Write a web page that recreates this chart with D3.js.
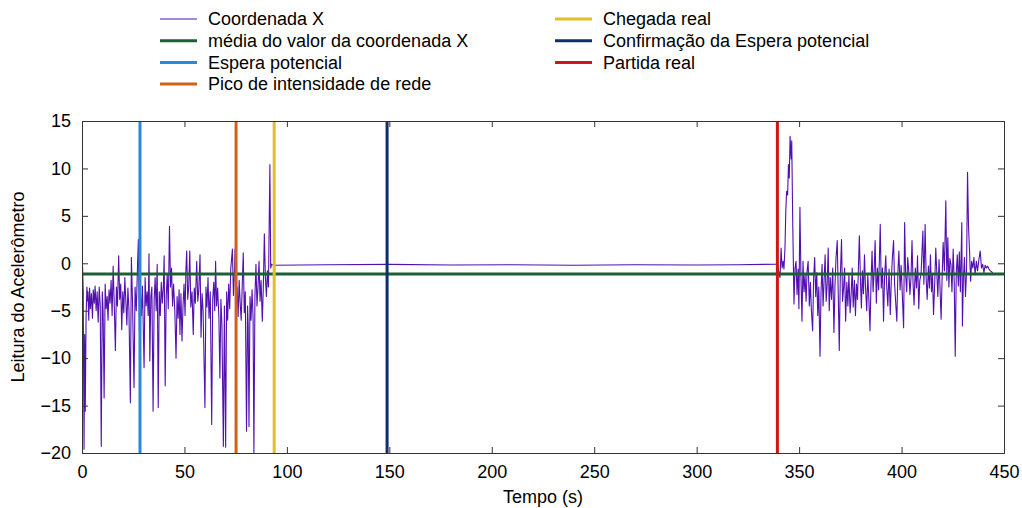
<!DOCTYPE html>
<html><head><meta charset="utf-8">
<script src="https://cdn.jsdelivr.net/npm/d3@7"></script>
<style>body{margin:0;background:#fff}svg{display:block}text{font-family:"Liberation Sans",Arial,sans-serif}</style>
</head><body><svg id="c" width="1022" height="508"></svg>
<script>
// ---- data ----
const xTicks = [0,50,100,150,200,250,300,350,400,450];
const yTicks = [-20,-15,-10,-5,0,5,10,15];
const meanValue = -1.12;
const eventNames = ["Espera potencial","Pico de intensidade de rede","Chegada real","Confirmação da Espera potencial","Partida real"];
const eventTimes = [28.3, 75.2, 93.8, 148.9, 339.4];
const eventColors = ["#2a88d8","#d2601a","#e0c028","#0f2e6e","#cc1515"];
const seriesColor = "#5210b0";
const meanColor = "#1d5e37";

const preSegment = [
[0.0,0.5],[0.3,-0.5],[0.6,-3],[0.8,-12],[1.0,-19.6],[1.3,-7.5],[1.6,-15.6],[2.0,-5.5],[2.4,-2.5],[2.8,-4],
[2.9,-3],[3.3,-6],[3.7,-2.6],[4.1,-4.8],[4.6,-3.2],[5.1,-5.8],[5.5,-2.8],[6.0,-4.2],[6.4,-2.4],[6.9,-5],
[7.4,-3],[7.9,-6.2],[8.4,-2.5],[8.9,-4.5],[9.4,-19.3],[9.9,-3],[10.3,-5],[10.8,-14.2],[11.3,-2.2],[11.8,-4.8],
[12.3,-3.5],[12.7,-6],[13.2,-2.8],[13.7,-4.2],[14.2,-1.8],[14.7,-5.5],[15.2,-0.3],[15.7,-4],[16.3,-9.2],[16.8,-2.5],
[17.3,-4.5],[17.9,0.8],[18.4,-3.8],[18.9,-2.2],[19.4,-7],[19.9,-3],[20.4,-5.2],[20.9,-1.5],[21.4,-4],[21.9,-6.5],
[22.4,-2.6],[22.9,-4.8],[23.6,-14.7],[24.1,0.6],[24.6,-3.5],[25.4,-13.1],[25.9,-2.5],[26.5,-5],[27.0,-1],[27.5,2.5],
[28.0,-7.1],[28.5,-3],[29.0,-5.5],[29.5,-2.4],[30.3,-11],[30.8,-1.5],[31.3,-4.5],[31.8,-3],[32.3,-5.5],[32.7,1],
[33.1,-10.3],[33.6,-3.5],[34.1,-2.5],[34.7,-15.6],[35.2,-4],[35.7,-1.5],[36.2,-5],[36.7,-0.1],[37.2,-15.2],[37.7,-3],
[38.2,-5.5],[38.7,-2],[39.2,-4.2],[39.7,-2.5],[40.1,0.8],[40.6,-12.9],[41.1,-3.5],[41.6,-1.2],[42.1,-4.8],[42.7,3.9],
[43.2,-2.5],[43.7,-0.5],[44.2,-4.5],[44.7,-2.2],[45.3,-5],[45.9,-10],[46.4,-3.5],[46.9,-5.8],[47.4,-2.8],[47.8,-7.5],
[48.3,-3.2],[48.8,-8.2],[49.3,-4.5],[49.8,-2.2],[50.3,-5.5],[50.7,-0.8],[51.1,1.3],[51.6,-3.8],[52.1,-2.4],[52.6,1.3],
[53.1,-4.6],[53.7,-3],[54.3,-7.5],[54.8,-2.6],[55.3,-4.2],[56.0,0.2],[56.5,-4],[57.0,-2.8],[57.6,0.9],[58.1,-7.8],
[58.6,-3.2],[59.1,-5],[60.0,-15.2],[60.5,-2.5],[61.0,-4.6],[61.5,-1.5],[62.0,-5.8],[62.6,-3],[63.3,-17],[63.8,-3.8],
[64.3,-2],[64.8,-5],[65.2,0.2],[65.7,-4.5],[66.2,-2.6],[66.8,-5.6],[67.3,-12.1],[67.8,-3.8],[68.3,-6.5],[69.0,-19.3],
[69.5,-4.5],[70.1,-19.4],[70.6,-3],[71.1,-6],[71.6,-2.2],[72.1,-4.8],[72.6,-0.6],[73.4,1.5],[73.9,-3.4],[74.4,-1],
[74.7,1.5],[75.2,-4],[75.7,-2.5],[76.2,-5.6],[76.7,-1.8],[77.2,-4.2],[77.7,-6],[78.2,-2.4],[78.7,1.1],[79.2,-5.2],
[79.7,-3],[80.3,-17.7],[80.8,-4.5],[81.1,-6.5],[81.5,-17.2],[82.0,-3.5],[82.5,-6],[83.0,-2.8],[83.5,-5.8],[83.9,-20],
[84.4,-3.5],[84.9,-0.1],[85.4,-4.5],[85.9,-2.5],[86.4,0.2],[86.9,-4],[87.4,-1.8],[88.0,-6.1],[88.5,-2.5],[89.0,3.1],
[89.5,-1.5],[90.0,-3.5],[90.5,-0.8],[91.0,-2.5],[91.7,10.4],[92.1,-0.5],[92.5,-0.1],[92.9,-0.15]
];
const flatSegment = [
[93.6,-0.2],[120,-0.15],[150,-0.12],[180,-0.18],[210,-0.15],[240,-0.2],[270,-0.15],[300,-0.18],[320,-0.15],[338.9,-0.1]
];
const postSegment = [
[339.4,-0.1],[340.0,-0.8],[340.7,-1.5],[341.2,1.6],[341.7,-0.5],[342.2,0.2],[342.6,-0.6],[343.1,1.6],[343.5,5.5],[343.9,7.6],
[344.4,7.2],[344.8,10.4],[345.2,9],[345.6,13.4],[346.1,11],[346.4,12.9],[346.9,4.1],[347.5,-4.3],[348.0,-0.5],[348.5,0.2],
[349.0,-3.3],[349.5,-0.6],[349.9,-4.8],[350.4,5.9],[350.9,-1.5],[351.4,-6.1],[351.9,0.2],[352.4,-3],[352.9,-1.2],[353.4,-4],
[353.9,-0.8],[354.4,0.2],[355.0,-4.5],[355.5,-2],[356.0,-5],[356.6,-7.1],[357.1,-1.5],[357.6,0.6],[358.1,-3.5],[358.6,-1],
[359.1,-5.5],[359.6,-2.5],[360.2,-9.8],[360.7,-3],[361.2,-0.1],[361.7,-4.5],[362.2,-1.8],[362.7,0.9],[363.2,-4],[363.7,-2.2],
[364.2,1.6],[364.7,-5],[365.2,-1.5],[365.8,-3.8],[366.4,-0.5],[367.0,-7.3],[367.5,-2.4],[368.0,0.5],[368.6,2.4],[369.1,-3.2],
[369.6,-9.2],[370.1,-1.5],[370.7,2.5],[371.2,-4],[371.7,-2.6],[372.2,-0.5],[372.7,-6.1],[373.3,-2],[373.8,-4.5],[374.3,-1.2],
[374.9,-5.2],[375.4,-3.3],[375.9,-0.5],[376.4,-4.6],[377.0,-1.8],[377.5,-5.5],[378.0,-2.2],[378.5,-3.8],[379.4,2.9],[379.9,-1.5],
[380.4,-4.7],[380.9,-0.8],[381.4,-3.2],[381.9,0.9],[382.4,-2.5],[383.0,-5],[383.5,-1.2],[384.0,-3.5],[384.6,-7.1],[385.1,-2],
[385.6,1.3],[386.1,-3],[386.6,-1],[387.1,2.4],[387.7,-4.2],[388.2,-0.5],[388.8,-2.8],[389.6,4.1],[390.1,-2.6],[390.7,-0.5],
[391.2,-6.1],[391.7,-1.5],[392.3,0.8],[392.8,-2.6],[393.3,-4.5],[393.9,-0.6],[394.5,-5.4],[395.0,-1.8],[395.5,0.5],[396.1,2.4],
[396.6,-2.2],[397.1,-4],[397.7,-6.1],[398.2,-1],[398.7,1.3],[399.3,-2.8],[399.8,-0.2],[400.4,-3.5],[401.0,-6.8],[401.5,4.3],
[402.0,-1.2],[402.5,-3],[403.0,0.6],[403.5,-0.8],[404.1,-3.3],[404.6,-1.5],[405.1,2.4],[405.6,-2],[406.1,-4.4],[406.7,-0.5],
[407.3,-2.6],[407.8,0.8],[408.4,-4.8],[408.9,-1.8],[409.5,-1.2],[410.4,3.4],[410.9,-2.2],[411.5,4.1],[412.0,-1.5],[412.5,-3.8],
[413.1,-0.3],[413.6,-2.6],[414.1,0.9],[414.6,-3],[415.1,-1.2],[415.6,-5.4],[416.2,-2],[416.7,1.6],[417.2,-1],[417.7,-3.5],
[418.3,0.4],[418.8,-2.8],[419.3,-5.9],[419.8,-1.5],[420.3,2.2],[420.9,-0.8],[421.6,6.6],[422.1,-1.8],[422.6,2.7],[423.1,-2.5],
[423.6,0.5],[424.1,-0.1],[424.6,-3],[425.2,1.5],[425.7,-2],[426.2,-9.8],[426.7,-1],[427.2,0.9],[427.7,-2.4],[428.2,1.2],
[428.7,-3],[429.4,4.3],[429.7,-6.6],[430.2,-1.5],[430.7,0.6],[431.2,-3.5],[431.7,-1],[432.2,9.6],[432.7,3.8],[433.2,1.2],
[433.7,-1.9],[434.2,0.2],[434.8,-0.5],[435.3,0.6],[435.9,-1.2],[436.5,0.2],[437.1,-0.8],[437.8,0.5],[438.4,1.3],[439.0,-0.5],
[439.6,-0.1],[440.2,-1],[440.8,-0.2],[441.4,-0.5],[442.0,-0.3],[442.7,-0.6],[443.3,-0.8],[444.0,-0.9],[444.7,-1.1]
];
const coordX = preSegment.concat(flatSegment, postSegment);

// ---- layout ----
const M = {left:82, right:1004, top:121, bottom:453};
const svg = d3.select("#c");
const x = d3.scaleLinear().domain([0,450]).range([M.left, M.right]);
const y = d3.scaleLinear().domain([-20,15]).range([M.bottom, M.top]);
const fmt = v => (v<0 ? "\u2212"+Math.abs(v) : ""+v);

svg.append("clipPath").attr("id","pc").append("rect")
  .attr("x",M.left).attr("y",M.top).attr("width",M.right-M.left).attr("height",M.bottom-M.top);

const g = svg.append("g").attr("clip-path","url(#pc)");
g.append("path").datum(coordX)
  .attr("d", d3.line().x(d=>x(d[0])).y(d=>y(d[1])))
  .attr("fill","none").attr("stroke",seriesColor).attr("stroke-width",1.1).attr("stroke-linejoin","round");
g.append("line").attr("x1",x(0)).attr("x2",x(450)).attr("y1",y(meanValue)).attr("y2",y(meanValue))
  .attr("stroke",meanColor).attr("stroke-width",3);
eventTimes.forEach((t,i)=>{
  g.append("line").attr("x1",x(t)).attr("x2",x(t)).attr("y1",y(-20)).attr("y2",y(15))
   .attr("stroke",eventColors[i]).attr("stroke-width",3);
});

// axes with inward ticks and mirrors
const axCol = "#333";
const axB = svg.append("g").attr("transform",`translate(0,${M.bottom})`)
  .call(d3.axisBottom(x).tickValues(xTicks).tickSize(-6).tickPadding(12).tickFormat(fmt));
const axT = svg.append("g").attr("transform",`translate(0,${M.top})`)
  .call(d3.axisTop(x).tickValues(xTicks).tickSize(-6).tickFormat(""));
const axL = svg.append("g").attr("transform",`translate(${M.left},0)`)
  .call(d3.axisLeft(y).tickValues(yTicks).tickSize(-6).tickPadding(11).tickFormat(fmt));
const axR = svg.append("g").attr("transform",`translate(${M.right},0)`)
  .call(d3.axisRight(y).tickValues(yTicks).tickSize(-6).tickFormat(""));
[axB,axT,axL,axR].forEach(a=>{
  a.selectAll("path").attr("stroke",axCol).attr("stroke-width",1);
  a.selectAll("line").attr("stroke",axCol);
  a.selectAll("text").attr("fill","#000").style("font-size","18px").style("font-family",'"Liberation Sans",Arial,sans-serif');
});
axB.selectAll("text").attr("dy","0.71em");

svg.append("text").attr("x",(M.left+M.right)/2).attr("y",503).attr("text-anchor","middle")
  .style("font-size","18px").text("Tempo (s)");
svg.append("text").attr("transform",`translate(24,${(M.top+M.bottom)/2}) rotate(-90)`).attr("text-anchor","middle")
  .style("font-size","18px").text("Leitura do Acelerômetro");

// legend
const legendItems = [
  {name:"Coordenada X", color:seriesColor, w:1, col:0, row:0},
  {name:"média do valor da coordenada X", color:meanColor, w:3, col:0, row:1},
  {name:eventNames[0], color:eventColors[0], w:3, col:0, row:2},
  {name:eventNames[1], color:eventColors[1], w:3, col:0, row:3},
  {name:eventNames[2], color:eventColors[2], w:3, col:1, row:0},
  {name:eventNames[3], color:eventColors[3], w:3, col:1, row:1},
  {name:eventNames[4], color:eventColors[4], w:3, col:1, row:2}
];
const colX = [160, 555];
legendItems.forEach(it=>{
  const cy = 19 + it.row*21.7;
  const x0 = colX[it.col];
  svg.append("line").attr("x1",x0).attr("x2",x0+37).attr("y1",cy).attr("y2",cy)
    .attr("stroke",it.color).attr("stroke-width",it.w);
  svg.append("text").attr("x",x0+48).attr("y",cy).attr("dy","0.35em")
    .style("font-size","18px").text(it.name);
});
</script></body></html>
